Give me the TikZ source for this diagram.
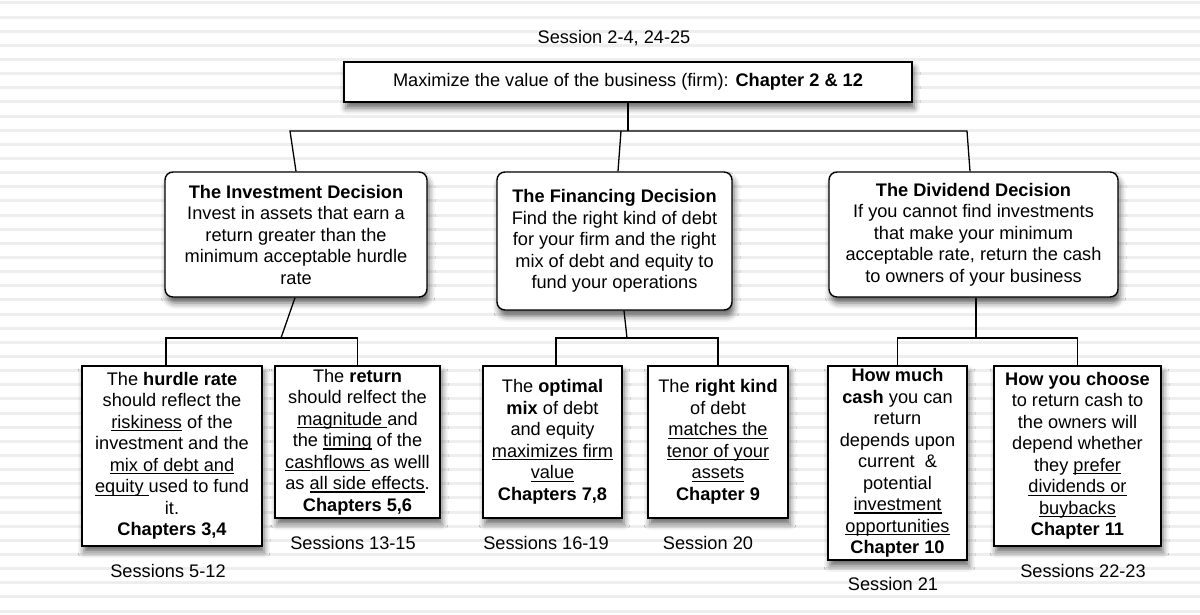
\documentclass[tikz,border=0pt]{standalone}
\usepackage{fontspec}
\setmainfont{Liberation Sans}
\usetikzlibrary{positioning,shadows.blur}
\definecolor{stripecolor}{HTML}{EEEEEE}
\newsavebox{\ulbox}
\newcommand{\ulin}[1]{\sbox\ulbox{#1}\rlap{\rule[-2.8pt]{\wd\ulbox}{1.1pt}}\usebox\ulbox}

\begin{document}
\begin{tikzpicture}[x=1pt, y=-1pt,
  box/.style={draw, line width=1.4pt, fill=white, align=center, inner sep=0pt,
              font=\fontsize{18.2}{21.5}\selectfont,
              blur shadow={shadow xshift=2pt, shadow yshift=-6pt,
                           shadow blur radius=6pt, shadow opacity=60}},
  decision/.style={box, rounded corners=8pt},
  sess/.style={font=\fontsize{18.2}{21.5}\selectfont, inner sep=0pt,
               text height=13pt, text depth=0pt},
  link/.style={line width=1.3pt},
  stripe/.style={stripecolor, line width=3pt},
]
  \useasboundingbox (0,0) rectangle (1200,615);
  \foreach \k in {0,...,43}
    \draw[stripe] (0,3+14.14*\k) -- (1200,3+14.14*\k);

  % ── Goal ─────────────────────────
  \node[box, minimum width=568pt, minimum height=40pt] (firm) at (628,82)
        {Maximize the value of the business (firm): \textbf{Chapter 2 \& 12}};
  \node[sess, above=18pt of firm, xshift=-14pt] (s0) {Session 2-4, 24-25};

  % ── Decisions ────────────────────
  \node[decision, minimum width=262pt, minimum height=125pt] (inv) at (296,234.5)
        {\textbf{The Investment Decision}\\ Invest in assets that earn a\\
         return greater than the\\ minimum acceptable hurdle\\ rate};
  \node[decision, minimum width=235pt, minimum height=138pt] (fin) at (614.5,241)
        {\textbf{The Financing Decision}\\ Find the right kind of debt\\
         for your firm and the right\\ mix of debt and equity to\\ fund your operations};
  \node[decision, minimum width=289pt, minimum height=125pt] (div) at (973.5,234.5)
        {\textbf{The Dividend Decision}\\ If you cannot find investments\\
         that make your minimum\\ acceptable rate, return the cash\\ to owners of your business};

  % ── Details ──────────────────────
  \node[box, minimum width=180pt, minimum height=180pt] (hurdle) at (172,456)
        {The \textbf{hurdle rate}\\ should reflect the\\ \ulin{riskiness} of the\\
         investment and the\\ \ulin{mix of debt and}\\ \ulin{equity\ }used to fund\\
         it.\\ \textbf{Chapters 3,4}};
  \node[box, minimum width=165pt, minimum height=152pt] (ret) at (357.5,442)
        {The \textbf{return}\\ should relfect the\\ \ulin{magnitude\ }and\\
         the \ulin{timing} of the\\ \ulin{cashflows\ }as welll\\
         as \ulin{all side effects}.\\ \textbf{Chapters 5,6}};
  \node[box, minimum width=139pt, minimum height=152pt] (optmix) at (552.5,442)
        {The \textbf{optimal}\\ \textbf{mix} of debt\\ and equity\\
         \ulin{maximizes firm}\\ \ulin{value}\\ \textbf{Chapters 7,8}};
  \node[box, minimum width=140pt, minimum height=152pt] (rkind) at (718,442)
        {The \textbf{right kind}\\ of debt\\ \ulin{matches the}\\
         \ulin{tenor of your}\\ \ulin{assets}\\ \textbf{Chapter 9}};
  \node[box, minimum width=139pt, minimum height=194pt] (cash) at (897.5,463)
        {\textbf{How much}\\ \textbf{cash} you can\\ return\\ depends upon\\
         current\ \ \&\\ potential\\ \ulin{investment}\\ \ulin{opportunities}\\
         \textbf{Chapter 10}};
  \node[box, minimum width=167pt, minimum height=180pt] (choose) at (1077.5,456)
        {\textbf{How you choose}\\ to return cash to\\ the owners will\\
         depend whether\\ they \ulin{prefer}\\ \ulin{dividends or}\\
         \ulin{buybacks}\\ \textbf{Chapter 11}};

  % ── Sessions ─────────────────────
  \node[sess, below=18pt of hurdle, xshift=-4pt] (s512) {Sessions 5-12};
  \node[sess, below=18pt of ret, xshift=-4.5pt] (s1315) {Sessions 13-15};
  \node[sess, below=18pt of optmix, xshift=-6.5pt] (s1619) {Sessions 16-19};
  \node[sess, below=18pt of rkind, xshift=-10pt] (s20) {Session 20};
  \node[sess, below=16.5pt of cash, xshift=-4.5pt] (s21) {Session 21};
  \node[sess, below=18pt of choose, xshift=5.5pt] (s2223) {Sessions 22-23};

  % ── Links ────────────────────────
  \coordinate (busl) at (290,131);
  \coordinate (busr) at (967,131);
  \coordinate (busm) at (621,131);
  \draw[link] (firm.south) -- (firm.south |- busl);
  \draw[link] (inv.north) -- (busl) -- (busr) -- ([xshift=-3.5pt]div.north);
  \draw[link] (busm) -- ([xshift=3.5pt]fin.north);

  \coordinate (invj) at (281,338);
  \draw[link] ([xshift=-1pt]inv.south) -- (invj);
  \draw[link] ([xshift=-6pt]hurdle.north) |- (invj) -| (ret.north);

  \coordinate (finj) at (627,338);
  \draw[link] ([xshift=9.5pt]fin.south) -- (finj);
  \draw[link] ([xshift=3.5pt]optmix.north) |- (finj) -| (rkind.north);

  \coordinate (divj) at (976,338);
  \draw[link] ([xshift=2.5pt]div.south) -- (divj);
  \draw[link] (cash.north) |- (divj) -| (choose.north);
\end{tikzpicture}
\end{document}
